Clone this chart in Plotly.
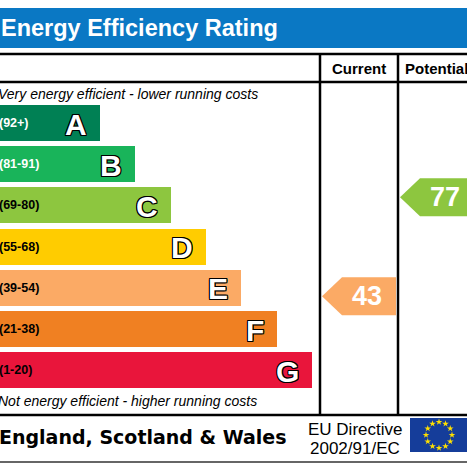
import math
import plotly.graph_objects as go

# ---------------- data ----------------
bands = ["A", "B", "C", "D", "E", "F", "G"]
band_ranges = ["(92+)", "(81-91)", "(69-80)", "(55-68)", "(39-54)", "(21-38)", "(1-20)"]
band_min = [92, 81, 69, 55, 39, 21, 1]
band_max = [100, 91, 80, 68, 54, 38, 20]
band_colors = ["#008054", "#19b45a", "#8dc63f", "#ffcc00", "#fbaa65", "#f08022", "#e9153b"]
range_text_colors = ["white", "white", "black", "black", "black", "black", "black"]
current_rating = 43
potential_rating = 77
column_titles = ["Current", "Potential"]
title_text = "Energy Efficiency Rating"
top_note = "Very energy efficient - lower running costs"
bottom_note = "Not energy efficient - higher running costs"
footer_region = "England, Scotland & Wales"
footer_directive = ["EU Directive", "2002/91/EC"]

# ---------------- layout constants (pixel space) ----------------
W = H = 467
ROW0 = 123.0      # centre of first band row
ROW_STEP = 41.2
BAR_H = 36.0
LEN0 = 100.0
LEN_STEP = 35.3
COL_X = [320, 398]          # vertical dividers
CUR_TIP = 322
POT_TIP = 400
ARROW_W = 74
ARROW_POINT = 20
ARROW_HALF = 19

ARIAL = "Arial, Liberation Sans, sans-serif"

centers = [ROW0 + i * ROW_STEP for i in range(len(bands))]
lengths = [LEN0 + i * LEN_STEP for i in range(len(bands))]

fig = go.Figure()

# bars
fig.add_trace(go.Bar(
    x=lengths, y=centers, base=0, orientation="h", width=BAR_H,
    marker=dict(color=band_colors, line=dict(width=0)),
    hoverinfo="skip", showlegend=False,
))

annotations = []
shapes = []

# band labels
outline = "-1px -1px 0 #000, 1px -1px 0 #000, -1px 1px 0 #000, 1px 1px 0 #000, 0 1px 0 #000, 0 -1px 0 #000, 1px 0 0 #000, -1px 0 0 #000"
for i, b in enumerate(bands):
    annotations.append(dict(
        x=0, xshift=-3, y=centers[i], xref="x", yref="y", xanchor="left", yanchor="middle",
        text=f"<b>{band_ranges[i]}</b>", showarrow=False,
        font=dict(family=ARIAL, size=12.5, color=range_text_colors[i]),
    ))
    annotations.append(dict(
        x=lengths[i] - 11, y=centers[i] + 1, xref="x", yref="y", xanchor="right", yanchor="middle",
        text=f"<b>{b}</b>", showarrow=False,
        font=dict(family=ARIAL, size=30, color="white", shadow=outline),
    ))


def band_index(v):
    for i in range(len(bands)):
        if band_min[i] <= v <= band_max[i]:
            return i
    return len(bands) - 1


def arrow(v, tip):
    i = band_index(v)
    top = centers[i] - BAR_H / 2
    cy = top + (band_max[i] - v) / (band_max[i] - band_min[i]) * BAR_H
    xs = [tip, tip + ARROW_POINT, tip + ARROW_W, tip + ARROW_W, tip + ARROW_POINT, tip]
    ys = [cy, cy - ARROW_HALF, cy - ARROW_HALF, cy + ARROW_HALF, cy + ARROW_HALF, cy]
    fig.add_trace(go.Scatter(
        x=xs, y=ys, fill="toself", fillcolor=band_colors[i], mode="lines",
        line=dict(width=0, color=band_colors[i]), hoverinfo="skip", showlegend=False,
    ))
    annotations.append(dict(
        x=tip + 45, y=cy, xref="x", yref="y", xanchor="center", yanchor="middle",
        text=f"<b>{v}</b>", showarrow=False,
        font=dict(family=ARIAL, size=27, color="white"),
    ))


arrow(current_rating, CUR_TIP)
arrow(potential_rating, POT_TIP)

# header band
shapes.append(dict(type="rect", xref="x", yref="y", x0=-2, x1=W + 2, y0=8, y1=48,
                   fillcolor="#0a78c4", line=dict(width=0), layer="below"))
annotations.append(dict(
    x=0, xshift=-1, y=28, xref="x", yref="y", xanchor="left", yanchor="middle",
    text=f"<b>{title_text}</b>", showarrow=False,
    font=dict(family=ARIAL, size=23.5, color="white"),
))

# table lines
LW = 2.5
for yy in (54, 82, 415):
    shapes.append(dict(type="line", xref="x", yref="y", x0=-2, x1=W + 2, y0=yy, y1=yy,
                       line=dict(color="black", width=LW)))
for xx in COL_X:
    shapes.append(dict(type="line", xref="x", yref="y", x0=xx, x1=xx, y0=54, y1=415,
                       line=dict(color="black", width=LW)))
shapes.append(dict(type="line", xref="x", yref="y", x0=-2, x1=W + 2, y0=462, y1=462,
                   line=dict(color="#666666", width=2)))

# column titles
annotations.append(dict(x=359, y=68, xref="x", yref="y", xanchor="center", yanchor="middle",
                        text=f"<b>{column_titles[0]}</b>", showarrow=False,
                        font=dict(family=ARIAL, size=15, color="black")))
annotations.append(dict(x=403, y=68, xref="x", yref="y", xanchor="left", yanchor="middle",
                        text=f"<b>{column_titles[1]}</b>", showarrow=False,
                        font=dict(family=ARIAL, size=15, color="black")))

# notes
annotations.append(dict(x=0, xshift=-4, y=94, xref="x", yref="y", xanchor="left", yanchor="middle",
                        text=f"<i>{top_note}</i>", showarrow=False,
                        font=dict(family=ARIAL, size=14, color="black")))
annotations.append(dict(x=0, xshift=-4, y=401, xref="x", yref="y", xanchor="left", yanchor="middle",
                        text=f"<i>{bottom_note}</i>", showarrow=False,
                        font=dict(family=ARIAL, size=14, color="black")))

# footer
annotations.append(dict(x=0, xshift=-3, y=437, xref="x", yref="y", xanchor="left", yanchor="middle",
                        text=f"<b>{footer_region}</b>", showarrow=False,
                        font=dict(family="DejaVu Sans, Verdana, sans-serif", size=19, color="black")))
annotations.append(dict(x=355, y=429, xref="x", yref="y", xanchor="center", yanchor="middle",
                        text=footer_directive[0], showarrow=False,
                        font=dict(family=ARIAL, size=17, color="black")))
annotations.append(dict(x=355, y=448, xref="x", yref="y", xanchor="center", yanchor="middle",
                        text=footer_directive[1], showarrow=False,
                        font=dict(family=ARIAL, size=17, color="black")))

# EU flag
shapes.append(dict(type="rect", xref="x", yref="y", x0=410, x1=W + 5, y0=418, y1=452,
                   fillcolor="#153d9a", line=dict(width=0), layer="below"))
fcx, fcy, fr = 439, 435, 13
sx = [fcx + fr * math.cos(2 * math.pi * k / 12) for k in range(12)]
sy = [fcy + fr * math.sin(2 * math.pi * k / 12) for k in range(12)]
fig.add_trace(go.Scatter(x=sx, y=sy, mode="markers",
                         marker=dict(symbol="star", size=5, color="#ffe000", line=dict(width=0)),
                         hoverinfo="skip", showlegend=False))

fig.update_layout(
    width=W, height=H, autosize=False,
    margin=dict(l=0, r=0, t=0, b=0, pad=0),
    paper_bgcolor="white", plot_bgcolor="white",
    xaxis=dict(range=[0, W], visible=False, fixedrange=True),
    yaxis=dict(range=[H, 0], visible=False, fixedrange=True),
    shapes=shapes, annotations=annotations,
    bargap=0, showlegend=False,
)

fig.write_html("out.html", config={"displayModeBar": False},
               post_script="document.body.style.margin='0';document.body.style.overflow='hidden';")
